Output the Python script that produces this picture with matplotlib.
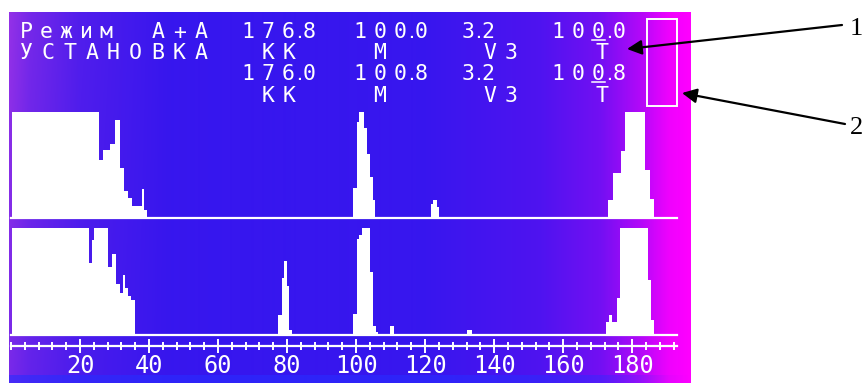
"""
Analyzer screen: two spectra (set-up and measured) with a scale ruler,
the header readout and two numbered callouts.
"""
import numpy as np
import matplotlib
matplotlib.use('Agg')
import matplotlib.pyplot as plt
from matplotlib.patches import Rectangle


# Header readout
MODE_LABEL = "Режим"
MODE_VALUE = "А+А"
SETUP_LABEL = "УСТАНОВКА"
SET_VALUES = ["176.8", "100.0", "3.2", "100.0"]
MEAS_VALUES = ["176.0", "100.8", "3.2", "100.8"]
UNITS = ["КК", "М", "V3", "Т"]

# Upper spectrum: bin edges and relative heights (1.0 = saturated)
TOP_EDGES = [0.3, 25.5, 26.6, 28.7, 30.1, 31.6, 32.7, 34.0, 35.0, 37.9, 38.5, 39.3,
             99.1, 100.2, 100.9, 102.3, 103.1, 104.0, 104.8, 105.5,
             121.6, 122.4, 123.4, 124.1,
             173.1, 174.4, 176.7, 177.8, 183.8, 185.2, 186.4]
TOP_HEIGHTS = [1.0, 0.55, 0.64, 0.70, 0.92, 0.47, 0.25, 0.19, 0.11, 0.27, 0.08,
               0.0,
               0.28, 0.91, 1.0, 0.85, 0.60, 0.39, 0.17,
               0.0,
               0.13, 0.17, 0.10,
               0.0,
               0.17, 0.42, 0.63, 1.0, 0.45, 0.18]

# Lower spectrum
BOTTOM_EDGES = [0.4, 22.7, 23.4, 24.1, 28.2, 29.2, 30.4, 31.6, 32.4, 33.0, 34.0, 34.8, 35.9,
                77.5, 78.4, 79.1, 79.9, 80.5, 81.4,
                99.2, 100.2, 100.9, 101.6, 104.0, 104.9, 105.9, 106.4,
                109.7, 111.0,
                132.1, 133.5,
                172.5, 173.4, 174.1, 175.6, 176.5, 184.7, 185.4, 186.4]
BOTTOM_HEIGHTS = [1.0, 0.67, 0.89, 1.0, 0.64, 0.76, 0.48, 0.39, 0.56, 0.44, 0.36, 0.33,
                  0.0,
                  0.19, 0.53, 0.69, 0.46, 0.05,
                  0.0,
                  0.20, 0.90, 0.93, 1.0, 0.59, 0.08, 0.03,
                  0.0,
                  0.08,
                  0.0,
                  0.05,
                  0.0,
                  0.12, 0.19, 0.12, 0.35, 1.0, 0.51, 0.14]

# Ruler
X_MAX = 193
MAJOR_TICKS = [20, 40, 60, 80, 100, 120, 140, 160, 180]
MINOR_STEP = 4

CALLOUTS = ["1", "2"]

W, H = 863, 383
LCD_FONT = 'DejaVu Sans Mono'


def fig_rect(x0, y_top, x1, y_bottom):
    """Pixel box (y down) -> figure fraction rect."""
    return [x0 / W, 1 - y_bottom / H, (x1 - x0) / W, (y_bottom - y_top) / H]


def put_chars(ax, text, x0, y, pitch, size=15.5):
    """Draw text one cell at a time, like the LCD does; '.' sits between cells."""
    x = x0
    for ch in text:
        if ch == '.':
            # small point squeezed between two digit cells
            ax.text(x - pitch / 2, y, ch, color='white', fontsize=size * 0.6,
                    family=LCD_FONT, fontweight='bold', ha='center', va='baseline')
            continue
        ax.text(x, y, ch, color='white', fontsize=size, family=LCD_FONT,
                ha='center', va='baseline')
        x += pitch


def screen_background():
    """Blue screen that goes purple on the left and magenta on the right."""
    xs = np.arange(9, 690) + 0.5
    ys = np.arange(12, 383) + 0.5
    X, Y = np.meshgrid(xs, ys)
    blue = np.array([55, 22, 238]) / 255
    pink = np.array([185, 60, 228]) / 255
    magenta = np.array([255, 0, 255]) / 255
    m_left = np.interp(X, [9, 30, 80, 170], [0.72, 0.48, 0.2, 0.0])
    m_left = m_left * (1.0 - 0.3 * (Y - 12) / 371)
    m_right = np.interp(X, [420, 540, 600, 640, 668, 690], [0.0, 0.12, 0.3, 0.62, 0.92, 1.0])
    img = (blue[None, None, :]
           + m_left[..., None] * (pink - blue)[None, None, :]
           + m_right[..., None] * (magenta - blue)[None, None, :])
    # slightly brighter strip at the very bottom of the screen
    strip = (Y > 375)[..., None] * (1 - m_right[..., None])
    img = img + strip * (np.array([40, 45, 255]) / 255 - img) * 0.6
    return np.clip(img, 0, 1)


def make_chart():
    fig = plt.figure(figsize=(W / 100, H / 100), dpi=100)
    fig.patch.set_facecolor('white')

    # Background layer in pixel coordinates
    bg = fig.add_axes([0, 0, 1, 1])
    bg.set_xlim(0, W)
    bg.set_ylim(H, 0)
    bg.axis('off')
    bg.imshow(screen_background(), extent=(9, 690, 383, 12), aspect='auto',
              interpolation='bilinear')

    # Header readout
    put_chars(bg, MODE_LABEL, 26, 38.5, 20)
    put_chars(bg, MODE_VALUE, 158, 38.5, 21.5)
    put_chars(bg, SETUP_LABEL, 26, 59, 21.9)
    value_x = [248, 360, 468, 558]
    unit_x = [268, 380, 490, 602]
    for row_y, values in ((38.5, SET_VALUES), (80.5, MEAS_VALUES)):
        for x0, val in zip(value_x, values):
            put_chars(bg, val, x0, row_y, 20.3)
    for row_y in (59, 101.5):
        for x0, unit in zip(unit_x, UNITS):
            put_chars(bg, unit, x0, row_y, 21.5)
    # cursor under the last column
    for row_y in (39.8, 81.8):
        bg.plot([592, 605], [row_y, row_y], color='white', lw=1.1)

    # Level box
    bg.add_patch(Rectangle((647, 18.5), 30, 87.5, fill=False, ec='white', lw=1.4))

    # Numbered callouts
    arrow = dict(arrowstyle='-|>', color='black', lw=1.6, mutation_scale=22,
                 shrinkA=0, shrinkB=0)
    bg.annotate('', xy=(627, 49), xytext=(842, 25), arrowprops=arrow)
    bg.annotate('', xy=(682, 93), xytext=(845, 124), arrowprops=arrow)
    bg.text(856, 29, CALLOUTS[0], fontsize=19, family='Liberation Serif',
            ha='center', va='center', color='black')
    bg.text(856, 128, CALLOUTS[1], fontsize=19, family='Liberation Serif',
            ha='center', va='center', color='black')

    # Spectra
    panels = [((112, 218), TOP_EDGES, TOP_HEIGHTS),
              ((228, 335), BOTTOM_EDGES, BOTTOM_HEIGHTS)]
    for (y_top, y_base), edges, heights in panels:
        ax = fig.add_axes(fig_rect(11, y_top, 677, y_base))
        ax.set_xlim(0, X_MAX)
        ax.set_ylim(0, 1)
        ax.axis('off')
        ax.stairs(heights, edges, fill=True, color='white', lw=0)
        ax.axhline(0, color='white', lw=1.6, clip_on=False)

    # Scale ruler
    ruler = fig.add_axes(fig_rect(11, 345.9, 677, 346))
    ruler.set_xlim(0, X_MAX)
    ruler.set_facecolor('none')
    for side in ('top', 'left', 'right'):
        ruler.spines[side].set_visible(False)
    ruler.spines['bottom'].set_color('white')
    ruler.spines['bottom'].set_linewidth(1.6)
    ruler.set_yticks([])
    ruler.set_xticks(MAJOR_TICKS)
    ruler.set_xticklabels([str(t) for t in MAJOR_TICKS])
    ruler.set_xticks(np.arange(0, X_MAX + 1, MINOR_STEP), minor=True)
    ruler.tick_params(which='both', direction='inout', colors='white', width=1.4)
    ruler.tick_params(which='major', length=10, pad=1, labelsize=17)
    ruler.tick_params(which='minor', length=6)
    for lbl in ruler.get_xticklabels():
        lbl.set_family(LCD_FONT)

    fig.savefig('out.png', dpi=100, facecolor='white')


if __name__ == '__main__':
    make_chart()
